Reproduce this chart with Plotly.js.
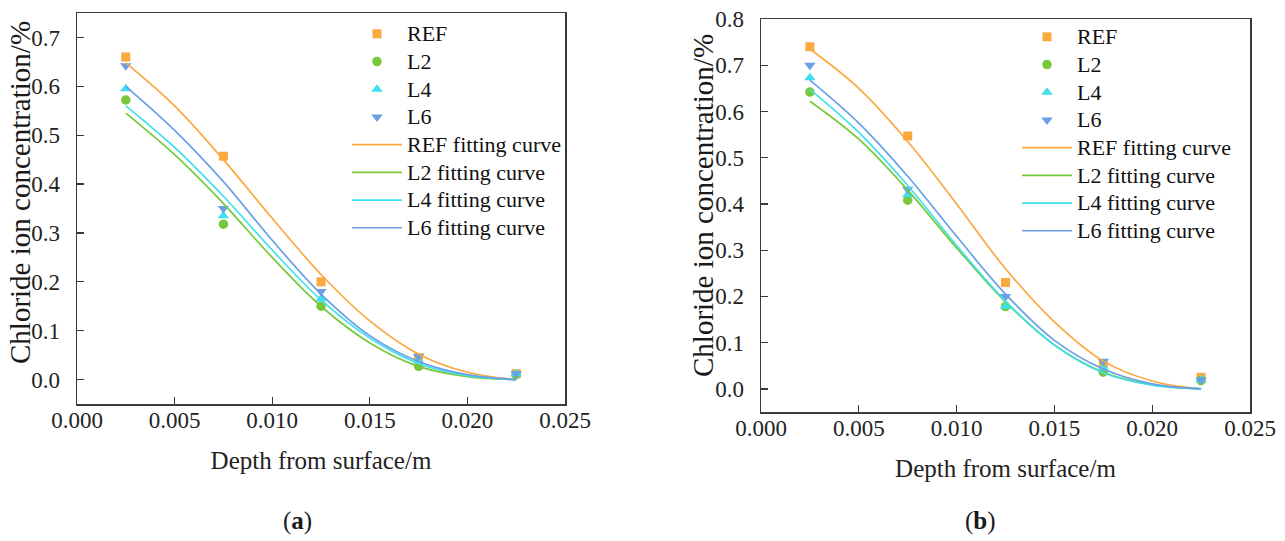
<!DOCTYPE html>
<html>
<head>
<meta charset="utf-8">
<script src="https://cdn.plot.ly/plotly-3.0.1.min.js"></script>
<style>html,body{margin:0;padding:0;background:#fff;}#chart{width:1285px;height:541px;}</style>
</head>
<body>
<div id="chart"></div>
<script>
// measured depths (m)
const depth = [0.0025, 0.0075, 0.0125, 0.0175, 0.0225];
// panel (a) measured values
const a_REF = [0.660, 0.457, 0.200, 0.045, 0.012];
const a_L2  = [0.572, 0.318, 0.150, 0.027, 0.010];
const a_L4  = [0.595, 0.335, 0.165, 0.038, 0.012];
const a_L6  = [0.642, 0.350, 0.180, 0.047, 0.012];
// panel (b) measured values
const b_REF = [0.740, 0.547, 0.230, 0.055, 0.025];
const b_L2  = [0.642, 0.408, 0.178, 0.036, 0.018];
const b_L4  = [0.673, 0.420, 0.178, 0.045, 0.020];
const b_L6  = [0.700, 0.432, 0.200, 0.060, 0.020];
// fitting curve sample depths (m)
const fitDepth = [0.0025, 0.005, 0.0075, 0.010, 0.0125, 0.015, 0.0175, 0.020, 0.0225];
// panel (a) fitting curves
const a_REF_fit = [0.648, 0.560, 0.450, 0.330, 0.215, 0.120, 0.052, 0.015, 0.000];
const a_L6_fit  = [0.600, 0.510, 0.405, 0.285, 0.175, 0.090, 0.037, 0.010, 0.000];
const a_L4_fit  = [0.560, 0.475, 0.375, 0.265, 0.163, 0.085, 0.033, 0.008, 0.000];
const a_L2_fit  = [0.545, 0.460, 0.360, 0.250, 0.150, 0.075, 0.027, 0.006, 0.000];
// panel (b) fitting curves
const b_REF_fit = [0.735, 0.650, 0.535, 0.400, 0.260, 0.145, 0.060, 0.017, 0.000];
const b_L6_fit  = [0.668, 0.575, 0.460, 0.330, 0.205, 0.105, 0.043, 0.011, 0.000];
const b_L4_fit  = [0.648, 0.555, 0.440, 0.310, 0.190, 0.095, 0.035, 0.008, 0.000];
const b_L2_fit  = [0.622, 0.540, 0.430, 0.305, 0.188, 0.095, 0.036, 0.009, 0.000];

const seriesNames = ['REF', 'L2', 'L4', 'L6'];
const colors = {REF: '#FBA83E', L2: '#77C83A', L4: '#3FE0EE', L6: '#6A9FE6'};
const symbols = {REF: 'square', L2: 'circle', L4: 'triangle-up', L6: 'triangle-down'};
const markerSizes = {REF: 9, L2: 9.5, L4: 10, L6: 10};
const xTickVals = [0, 0.005, 0.010, 0.015, 0.020, 0.025];
const xTickText = ['0.000', '0.005', '0.010', '0.015', '0.020', '0.025'];
const yTitleText = 'Chloride ion concentration/%';
const xTitleText = 'Depth from surface/m';

const panels = [
  {xa: 'x', ya: 'y', leg: 'legend', pts: {REF: a_REF, L2: a_L2, L4: a_L4, L6: a_L6},
   fits: {REF: a_REF_fit, L2: a_L2_fit, L4: a_L4_fit, L6: a_L6_fit}},
  {xa: 'x2', ya: 'y2', leg: 'legend2', pts: {REF: b_REF, L2: b_L2, L4: b_L4, L6: b_L6},
   fits: {REF: b_REF_fit, L2: b_L2_fit, L4: b_L4_fit, L6: b_L6_fit}}
];

const legText = t => '<span style="font-size:22px">' + t + '</span>';

const traces = [];
panels.forEach((p, pi) => {
  seriesNames.forEach((s, i) => {
    traces.push({
      x: depth, y: p.pts[s], xaxis: p.xa, yaxis: p.ya, legend: p.leg,
      type: 'scatter', mode: 'markers', name: legText(s), legendgroup: 'p' + pi + 'm' + i,
      marker: {symbol: symbols[s], color: colors[s], size: markerSizes[s]},
      cliponaxis: false
    });
  });
  seriesNames.forEach((s, i) => {
    traces.push({
      x: fitDepth, y: p.fits[s], xaxis: p.xa, yaxis: p.ya, legend: p.leg,
      type: 'scatter', mode: 'lines', name: legText(s + ' fitting curve'), legendgroup: 'p' + pi + 'l' + i,
      line: {color: colors[s], width: 1.7, shape: 'spline', smoothing: 1}
    });
  });
});

const fontFam = '"Liberation Serif", "Times New Roman", serif';
const axisCommon = () => ({
  showgrid: false, zeroline: false, showline: true, mirror: true,
  linecolor: '#3a3a3a', linewidth: 1.5, ticks: 'inside', ticklen: 7, tickwidth: 1.3, tickcolor: '#3a3a3a',
  tickfont: {family: fontFam, size: 23, color: '#222'}
});
const legendCommon = () => ({
  font: {family: fontFam, size: 19, color: '#111'}, bgcolor: 'rgba(0,0,0,0)',
  borderwidth: 0, traceorder: 'grouped', tracegroupgap: 0, itemwidth: 50,
  xanchor: 'left', yanchor: 'top'
});
const xTitle = () => ({text: xTitleText, font: {family: fontFam, size: 25, color: '#222'}, standoff: 19});
const ann = (text, x, y, size, angle) => ({
  text: text, xref: 'paper', yref: 'paper', x: x / 1285, y: 1 - y / 541, showarrow: false,
  textangle: angle, font: {family: fontFam, size: size, color: '#1a1a1a'}, xanchor: 'center', yanchor: 'middle'
});

const layout = {
  width: 1285, height: 541, margin: {l: 0, r: 0, t: 0, b: 0},
  paper_bgcolor: '#fff', plot_bgcolor: '#fff', showlegend: true,
  xaxis: Object.assign(axisCommon(), {domain: [77/1285, 565/1285], range: [0, 0.025], anchor: 'y',
    ticklabelstandoff: -5, tickvals: xTickVals, ticktext: xTickText, title: xTitle()}),
  yaxis: Object.assign(axisCommon(), {domain: [1 - 404/541, 1 - 13/541], range: [-0.05, 0.75], anchor: 'x',
    ticklabelstandoff: 11,
    tickvals: [0, 0.1, 0.2, 0.3, 0.4, 0.5, 0.6, 0.7], ticktext: ['0.0', '0.1', '0.2', '0.3', '0.4', '0.5', '0.6', '0.7']}),
  xaxis2: Object.assign(axisCommon(), {domain: [761/1285, 1250/1285], range: [0, 0.025], anchor: 'y2',
    ticklabelstandoff: -5, tickvals: xTickVals, ticktext: xTickText, title: xTitle()}),
  yaxis2: Object.assign(axisCommon(), {domain: [1 - 412/541, 1 - 19/541], range: [-0.05, 0.8], anchor: 'x2',
    ticklabelstandoff: 11,
    tickvals: [0, 0.1, 0.2, 0.3, 0.4, 0.5, 0.6, 0.7, 0.8], ticktext: ['0.0', '0.1', '0.2', '0.3', '0.4', '0.5', '0.6', '0.7', '0.8']}),
  legend: Object.assign(legendCommon(), {x: 347/1285, y: 1 - 15/541}),
  legend2: Object.assign(legendCommon(), {x: 1017/1285, y: 1 - 18/541}),
  annotations: [
    ann(yTitleText, 20, 193, 29, -90),
    ann(yTitleText, 703, 206, 29, -90),
    ann('(<b>a</b>)', 297, 521, 25, 0),
    ann('(<b>b</b>)', 981, 521, 25, 0)
  ]
};

Plotly.newPlot('chart', traces, layout, {displayModeBar: false, staticPlot: true});
</script>
</body>
</html>
